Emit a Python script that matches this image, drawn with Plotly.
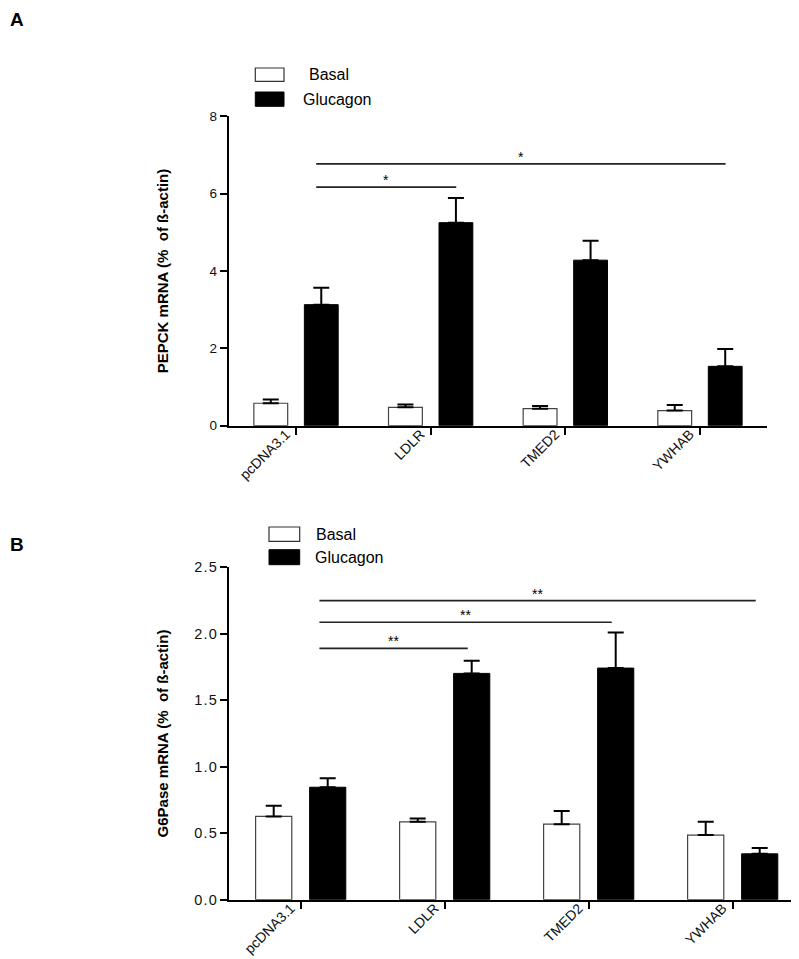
import plotly.graph_objects as go
from plotly.subplots import make_subplots

# ---------------- data ----------------
categories = ["pcDNA3.1", "LDLR", "TMED2", "YWHAB"]
series_names = ["Basal", "Glucagon"]

pepck_basal = [0.58, 0.475, 0.44, 0.39]
pepck_basal_sem = [0.10, 0.07, 0.07, 0.145]
pepck_glucagon = [3.13, 5.25, 4.28, 1.535]
pepck_glucagon_sem = [0.44, 0.64, 0.50, 0.45]

g6pase_basal = [0.626, 0.586, 0.568, 0.486]
g6pase_basal_sem = [0.08, 0.025, 0.10, 0.10]
g6pase_glucagon = [0.846, 1.702, 1.742, 0.345]
g6pase_glucagon_sem = [0.068, 0.095, 0.268, 0.043]

# significance comparisons: (from group, to group, height, label)
pepck_sig = [(0, 1, 6.17, "*"), (0, 3, 6.77, "*")]
g6pase_sig = [(0, 1, 1.89, "**"), (0, 2, 2.087, "**"), (0, 3, 2.249, "**")]

pepck_ticks = [0, 2, 4, 6, 8]
g6pase_ticks = [0.0, 0.5, 1.0, 1.5, 2.0, 2.5]

# ---------------- figure ----------------
W, H = 799, 959
FONT = "Arial, Liberation Sans, sans-serif"


def px(x):
    return x / W


def py(y):
    return 1 - y / H


fig = make_subplots(rows=2, cols=1)


def add_pair(row, basal, basal_sem, gluc, gluc_sem):
    fig.add_trace(go.Bar(
        x=categories, y=basal, name=series_names[0], showlegend=False,
        marker=dict(color="white", line=dict(color="#444", width=1.2)),
        error_y=dict(type="data", array=basal_sem, arrayminus=[0] * len(basal),
                     symmetric=False, color="black", thickness=2, width=8),
    ), row=row, col=1)
    fig.add_trace(go.Bar(
        x=categories, y=gluc, name=series_names[1], showlegend=False,
        marker=dict(color="black", line=dict(color="black", width=1)),
        error_y=dict(type="data", array=gluc_sem, arrayminus=[0] * len(gluc),
                     symmetric=False, color="black", thickness=2, width=8),
    ), row=row, col=1)


add_pair(1, pepck_basal, pepck_basal_sem, pepck_glucagon, pepck_glucagon_sem)
add_pair(2, g6pase_basal, g6pase_basal_sem, g6pase_glucagon, g6pase_glucagon_sem)

axis_common = dict(showline=True, linecolor="black", linewidth=2, ticks="outside",
                   ticklen=7, tickwidth=2, tickcolor="black", showgrid=False,
                   zeroline=False, automargin=False)
xaxis_common = dict(range=[-0.5, 3.5], type="category", tickangle=-45,
                    ticklabelshift=-10, ticklabelstandoff=-14,
                    tickfont=dict(size=14, family=FONT, color="#111"))

fig.update_layout(
    width=W, height=H, margin=dict(l=0, r=0, t=0, b=0),
    plot_bgcolor="white", paper_bgcolor="white",
    barmode="group", bargap=0.25, bargroupgap=0.33,
    font=dict(family=FONT, color="#111"),
    xaxis=dict(domain=[px(220.7), px(759.3)], **xaxis_common, **axis_common),
    yaxis=dict(domain=[py(417.7), py(108.3)], range=[0, 8], tickvals=pepck_ticks,
               tickfont=dict(size=13.5, family=FONT, color="#111"),
               title=dict(text="PEPCK mRNA (%  of ß-actin)", standoff=37,
                          font=dict(size=15, family=FONT, color="black", weight="bold")),
               **axis_common),
    xaxis2=dict(domain=[px(220.7), px(796.7)], **xaxis_common, **axis_common),
    yaxis2=dict(domain=[py(891.7), py(559.3)], range=[0, 2.5], tickvals=g6pase_ticks,
                ticktext=["0\u200a.\u200a0", "0\u200a.\u200a5", "1\u200a.\u200a0",
                          "1\u200a.\u200a5", "2\u200a.\u200a0", "2\u200a.\u200a5"],
                tickfont=dict(size=14.5, family=FONT, color="#111"),
                title=dict(text="G6Pase mRNA (%  of ß-actin)", standoff=22,
                           font=dict(size=15, family=FONT, color="black", weight="bold")),
                **axis_common),
)

# significance bars
shapes = []
annotations = []
for sig, xr, yr, x_off0, x_off1 in [(pepck_sig, "x", "y", 0.15, 0.19),
                                     (g6pase_sig, "x2", "y2", 0.13, 0.16)]:
    for i, j, h, lab in sig:
        x0, x1 = i + x_off0, j + x_off1
        shapes.append(dict(type="line", xref=xr, yref=yr, x0=x0, x1=x1, y0=h, y1=h,
                           line=dict(color="#222", width=1.6)))
        annotations.append(dict(xref=xr, yref=yr, x=(x0 + x1) / 2, y=h, text=lab,
                                showarrow=False, yanchor="bottom", yshift=-3,
                                font=dict(size=14, family=FONT, color="black")))

# custom legends (box + label)
legend_specs = [
    # (box x0, x1, basal y0, y1, gluc y0, y1, basal text x, gluc text x)
    (247.3, 276, 60, 73.3, 84, 98.3, 301.7, 295),
    (261, 291.7, 519, 533.3, 541.7, 556.7, 308, 307.3),
]
for bx0, bx1, by0, by1, gy0, gy1, btx, gtx in legend_specs:
    shapes.append(dict(type="rect", xref="paper", yref="paper",
                       x0=px(bx0), x1=px(bx1), y0=py(by1), y1=py(by0),
                       fillcolor="white", line=dict(color="#333", width=1.2)))
    shapes.append(dict(type="rect", xref="paper", yref="paper",
                       x0=px(bx0), x1=px(bx1), y0=py(gy1), y1=py(gy0),
                       fillcolor="black", line=dict(color="black", width=1)))
    annotations.append(dict(xref="paper", yref="paper", x=px(btx - 2.5),
                            y=py((by0 + by1) / 2), text=series_names[0],
                            xanchor="left", yanchor="middle", showarrow=False,
                            font=dict(size=16, family=FONT, color="black")))
    annotations.append(dict(xref="paper", yref="paper", x=px(gtx - 2.5),
                            y=py((gy0 + gy1) / 2), text=series_names[1],
                            xanchor="left", yanchor="middle", showarrow=False,
                            font=dict(size=16, family=FONT, color="black")))

# panel letters
for letter, ytop in [("A", -1), ("B", 524)]:
    annotations.append(dict(xref="paper", yref="paper", x=0, y=py(ytop), text=letter,
                            xanchor="left", yanchor="top", showarrow=False,
                            font=dict(size=19, family=FONT, color="black", weight="bold")))

fig.update_layout(shapes=shapes, annotations=annotations)

fig.write_html("out.html")
